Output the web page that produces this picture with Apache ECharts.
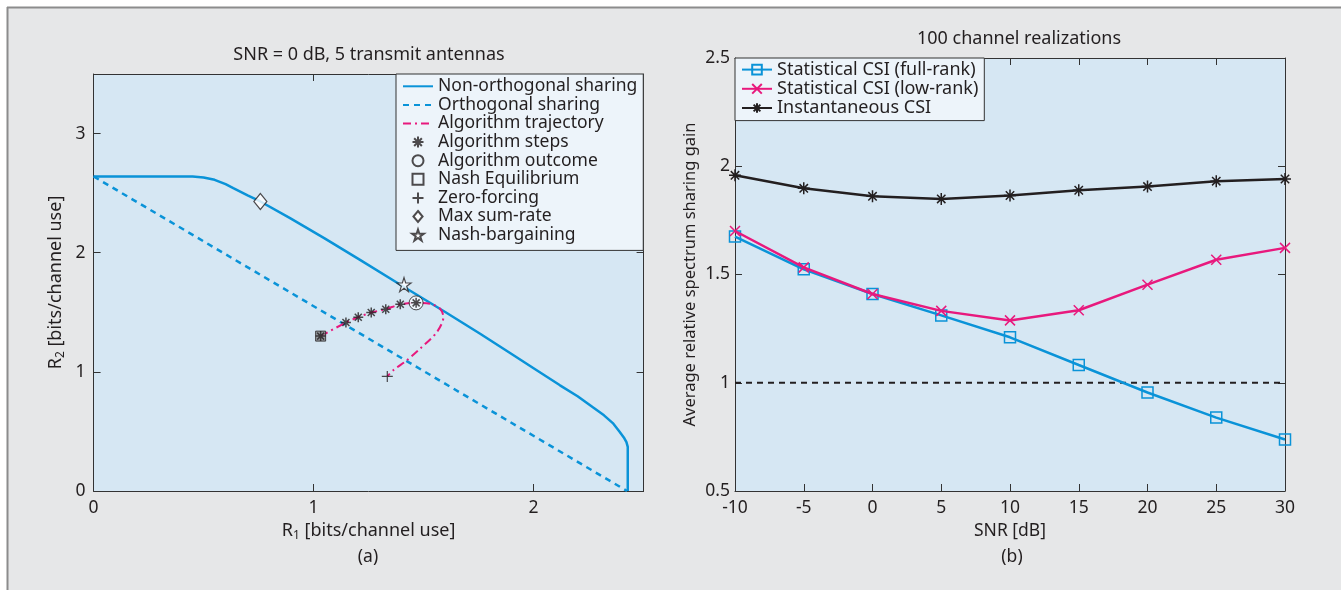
<!DOCTYPE html>
<html><head><meta charset="utf-8">
<script src="https://cdn.jsdelivr.net/npm/echarts@6/dist/echarts.min.js"></script>
<style>html,body{margin:0;padding:0;background:#fff}#c{width:1341px;height:590px}</style>
</head><body><div id="c"></div>
<script>
// ---- Panel (a) data ----
const nonOrthogonal = [[0,2.64],[0.2,2.64],[0.45,2.64],[0.5,2.632],[0.55,2.612],[0.6,2.575],[0.635,2.542],[0.7,2.482],[0.758,2.43],[0.893,2.29],[1.05,2.12],[1.211,1.94],[1.4,1.725],[1.6,1.5],[1.757,1.32],[1.9,1.15],[2.0,1.03],[2.12,0.887],[2.2,0.795],[2.271,0.70],[2.32,0.635],[2.36,0.57],[2.39,0.5],[2.41,0.45],[2.422,0.41],[2.428,0.37],[2.428,0]];
const orthogonal = [[0,2.64],[2.425,0]];
const trajectory = [[1.032,1.30],[1.147,1.414],[1.203,1.459],[1.262,1.498],[1.328,1.526],[1.394,1.567],[1.466,1.579],[1.53,1.572],[1.575,1.53],[1.59,1.46],[1.56,1.333],[1.484,1.194],[1.423,1.096],[1.362,1.013],[1.335,0.962]];
const algorithmSteps = [[1.032,1.30],[1.147,1.414],[1.203,1.459],[1.262,1.498],[1.328,1.526],[1.394,1.567],[1.466,1.579]];
const algorithmOutcome = [[1.466,1.579]];
const nashEquilibrium = [[1.032,1.30]];
const zeroForcing = [[1.335,0.962]];
const maxSumRate = [[0.758,2.43]];
const nashBargaining = [[1.411,1.732]];

// ---- Panel (b) data ----
const snr = [-10,-5,0,5,10,15,20,25,30];
const fullRank = [1.675,1.524,1.41,1.311,1.21,1.082,0.955,0.839,0.738];
const lowRank = [1.701,1.533,1.41,1.332,1.288,1.335,1.453,1.568,1.623];
const instantaneous = [1.958,1.898,1.861,1.849,1.865,1.889,1.906,1.931,1.941];
const referenceLevel = 1;

const FONT = 'Noto Sans';
const TXT = '#231f20';
const BLUE = '#0a93d8';
const MAG = '#e8197d';
const BLK = '#231f20';
const PLOTBG = '#d6e7f3';
const LEGBG = '#edf4fa';
const NOFILL = 'rgba(0,0,0,0)';

const ASTER = 'path://M0,-1L0,1M-1,0L1,0M-0.7,-0.7L0.7,0.7M-0.7,0.7L0.7,-0.7';
const PLUS = 'path://M0,-1L0,1M-1,0L1,0';
const CROSS = 'path://M-1,-1L1,1M-1,1L1,-1';
const SQUARE = 'path://M-1,-1L1,-1L1,1L-1,1Z';
const DIAMOND = 'path://M0,-1.2L1,0L0,1.2L-1,0Z';
const STAR = 'path://M0,-1L0.2245,-0.309L0.951,-0.309L0.363,0.118L0.588,0.809L0,0.382L-0.588,0.809L-0.363,0.118L-0.951,-0.309L-0.2245,-0.309Z';

const pair = (xs, ys) => xs.map((x, i) => [x, ys[i]]);

function boxAxis(gridIndex, min, max, interval) {
  return {
    type: 'value', gridIndex, min, max, interval,
    splitLine: {show: false},
    axisLine: {show: true, onZero: false, lineStyle: {color: '#333', width: 1}},
    axisTick: {show: true, inside: true, length: 7, lineStyle: {color: '#333'}}
  };
}

const tickLabel = {color: TXT, fontFamily: FONT, fontSize: 17.5};
const nameStyle = (fs) => ({color: TXT, fontFamily: FONT, fontSize: fs,
  rich: {sub: {fontSize: 12, fontFamily: FONT, color: TXT, padding: [10, 0, 0, 0]}}});

const chart = echarts.init(document.getElementById('c'), null, {renderer: 'canvas'});
chart.setOption({
  backgroundColor: '#e6e7e8',
  animation: false,
  graphic: [
    {type: 'rect', left: 0, top: 0, shape: {width: 1341, height: 7}, style: {fill: '#fff'}, silent: true},
    {type: 'rect', left: 0, top: 0, shape: {width: 7, height: 590}, style: {fill: '#fff'}, silent: true},
    {type: 'line', shape: {x1: 7, y1: 7.5, x2: 1341, y2: 7.5}, style: {stroke: '#8c8c8c', lineWidth: 2}, silent: true},
    {type: 'line', shape: {x1: 7.5, y1: 7, x2: 7.5, y2: 590}, style: {stroke: '#8c8c8c', lineWidth: 2}, silent: true},
    {type: 'text', x: 369, y: 55, style: {text: 'SNR = 0 dB, 5 transmit antennas', fill: TXT, font: '18px "Noto Sans"', align: 'center', verticalAlign: 'middle'}},
    {type: 'text', x: 1019, y: 39, style: {text: '100 channel realizations', fill: TXT, font: '18px "Noto Sans"', align: 'center', verticalAlign: 'middle'}},
    {type: 'text', x: 368, y: 557, style: {text: '(a)', fill: TXT, font: '17.5px "Noto Sans"', align: 'center', verticalAlign: 'middle'}},
    {type: 'text', x: 1012, y: 557, style: {text: '(b)', fill: TXT, font: '17.5px "Noto Sans"', align: 'center', verticalAlign: 'middle'}}
  ],
  grid: [
    {left: 93.6, right: 697.4, top: 74, bottom: 99, show: true, backgroundColor: PLOTBG, borderWidth: 0},
    {left: 735, right: 56, top: 58, bottom: 99, show: true, backgroundColor: PLOTBG, borderWidth: 0}
  ],
  xAxis: [
    Object.assign(boxAxis(0, 0, 2.5, 1), {position: 'bottom', axisLabel: Object.assign({margin: 8, showMaxLabel: false}, tickLabel),
      name: 'R{sub|1} [bits/channel use]', nameLocation: 'middle', nameGap: 28, nameTextStyle: nameStyle(18)}),
    Object.assign(boxAxis(0, 0, 2.5, 1), {position: 'top', axisLabel: {show: false}}),
    Object.assign(boxAxis(1, -10, 30, 5), {position: 'bottom', axisLabel: Object.assign({margin: 8}, tickLabel),
      name: 'SNR [dB]', nameLocation: 'middle', nameGap: 28, nameTextStyle: nameStyle(17.5)}),
    Object.assign(boxAxis(1, -10, 30, 5), {position: 'top', axisLabel: {show: false}})
  ],
  yAxis: [
    Object.assign(boxAxis(0, 0, 3.5, 1), {position: 'left', axisLabel: Object.assign({margin: 8, showMaxLabel: false}, tickLabel),
      name: 'R{sub|2} [bits/channel use]', nameLocation: 'middle', nameGap: 27, nameTextStyle: nameStyle(18)}),
    Object.assign(boxAxis(0, 0, 3.5, 1), {position: 'right', axisLabel: {show: false}}),
    Object.assign(boxAxis(1, 0.5, 2.5, 0.5), {position: 'left', axisLabel: Object.assign({margin: 5}, tickLabel),
      name: 'Average relative spectrum sharing gain', nameLocation: 'middle', nameGap: 36, nameTextStyle: nameStyle(16.5)}),
    Object.assign(boxAxis(1, 0.5, 2.5, 0.5), {position: 'right', axisLabel: {show: false}})
  ],
  legend: [
    {
      orient: 'vertical', left: 396, top: 74, padding: [3, 6, 6, 6], itemGap: 0,
      itemWidth: 30, itemHeight: 11,
      backgroundColor: LEGBG, borderColor: '#333', borderWidth: 1,
      textStyle: {color: TXT, fontFamily: FONT, fontSize: 17.5, lineHeight: 18.6},
      data: [
        {name: 'Non-orthogonal sharing', itemStyle: {color: NOFILL, borderColor: NOFILL}},
        {name: 'Orthogonal sharing', itemStyle: {color: NOFILL, borderColor: NOFILL}},
        {name: 'Algorithm trajectory', itemStyle: {color: NOFILL, borderColor: NOFILL}},
        'Algorithm steps',
        {name: 'Algorithm outcome', itemStyle: {color: NOFILL}},
        {name: 'Nash Equilibrium', itemStyle: {color: NOFILL}},
        'Zero-forcing', 'Max sum-rate', 'Nash-bargaining'
      ]
    },
    {
      orient: 'vertical', left: 735, top: 58, padding: [2, 6, 3, 6], itemGap: 0,
      itemWidth: 30, itemHeight: 12,
      backgroundColor: LEGBG, borderColor: '#333', borderWidth: 1,
      textStyle: {color: TXT, fontFamily: FONT, fontSize: 18, lineHeight: 19.2},
      data: ['Statistical CSI (full-rank)', 'Statistical CSI (low-rank)', 'Instantaneous CSI']
    }
  ],
  series: [
    {name: 'Non-orthogonal sharing', type: 'line', xAxisIndex: 0, yAxisIndex: 0, data: nonOrthogonal,
      symbol: 'none', lineStyle: {color: BLUE, width: 2.5}, itemStyle: {color: BLUE}, z: 2},
    {name: 'Orthogonal sharing', type: 'line', xAxisIndex: 0, yAxisIndex: 0, data: orthogonal,
      symbol: 'none', lineStyle: {color: BLUE, width: 2.5, type: [6, 5]}, itemStyle: {color: BLUE}, z: 2},
    {name: 'Algorithm trajectory', type: 'line', xAxisIndex: 0, yAxisIndex: 0, data: trajectory, smooth: 0.3,
      symbol: 'none', lineStyle: {color: MAG, width: 2, type: [8, 4, 2, 4]}, itemStyle: {color: MAG}, z: 3},
    {name: 'Algorithm outcome', type: 'scatter', xAxisIndex: 0, yAxisIndex: 0, data: algorithmOutcome,
      symbol: 'circle', symbolSize: 14, itemStyle: {color: '#f4f8fb', borderColor: BLK, borderWidth: 1}, z: 4},
    {name: 'Nash Equilibrium', type: 'scatter', xAxisIndex: 0, yAxisIndex: 0, data: nashEquilibrium,
      symbol: SQUARE, symbolSize: 10, itemStyle: {color: '#8a8b8d', borderColor: BLK, borderWidth: 1}, z: 4},
    {name: 'Algorithm steps', type: 'scatter', xAxisIndex: 0, yAxisIndex: 0, data: algorithmSteps,
      symbol: ASTER, symbolSize: 10, itemStyle: {color: 'none', borderColor: BLK, borderWidth: 1.5}, z: 5},
    {name: 'Zero-forcing', type: 'scatter', xAxisIndex: 0, yAxisIndex: 0, data: zeroForcing,
      symbol: PLUS, symbolSize: 11, itemStyle: {color: 'none', borderColor: BLK, borderWidth: 1.2}, z: 5},
    {name: 'Max sum-rate', type: 'scatter', xAxisIndex: 0, yAxisIndex: 0, data: maxSumRate,
      symbol: DIAMOND, symbolSize: [13, 16], itemStyle: {color: '#fff', borderColor: BLK, borderWidth: 1.2}, z: 5},
    {name: 'Nash-bargaining', type: 'scatter', xAxisIndex: 0, yAxisIndex: 0, data: nashBargaining,
      symbol: STAR, symbolSize: 14, itemStyle: {color: '#fff', borderColor: BLK, borderWidth: 1.2}, z: 5},

    {name: 'Reference', type: 'line', xAxisIndex: 2, yAxisIndex: 2,
      data: [[snr[0], referenceLevel], [snr[snr.length - 1], referenceLevel]],
      symbol: 'none', lineStyle: {color: BLK, width: 2, type: [6, 5]}, z: 2},
    {name: 'Statistical CSI (full-rank)', type: 'line', xAxisIndex: 2, yAxisIndex: 2, data: pair(snr, fullRank),
      symbol: 'rect', symbolSize: 11, lineStyle: {color: BLUE, width: 2.5},
      itemStyle: {color: NOFILL, borderColor: BLUE, borderWidth: 1.5}, z: 3},
    {name: 'Statistical CSI (low-rank)', type: 'line', xAxisIndex: 2, yAxisIndex: 2, data: pair(snr, lowRank),
      symbol: CROSS, symbolSize: 10, lineStyle: {color: MAG, width: 2.5},
      itemStyle: {color: 'none', borderColor: MAG, borderWidth: 1.5}, z: 4},
    {name: 'Instantaneous CSI', type: 'line', xAxisIndex: 2, yAxisIndex: 2, data: pair(snr, instantaneous),
      symbol: ASTER, symbolSize: 12, lineStyle: {color: BLK, width: 2.5},
      itemStyle: {color: 'none', borderColor: BLK, borderWidth: 1.5}, z: 4}
  ]
});
</script></body></html>
